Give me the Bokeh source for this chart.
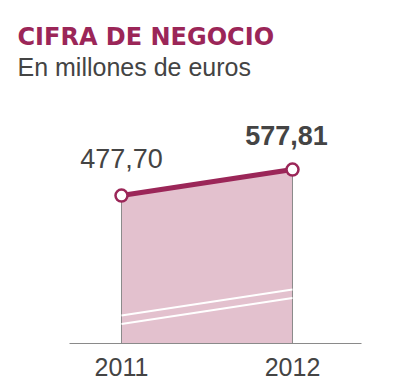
from bokeh.plotting import figure
from bokeh.models import Range1d, FixedTicker, Title, ColumnDataSource
from bokeh.embed import file_html
from bokeh.resources import INLINE
from bokeh.core.properties import value

# ---- data ----
years = [2011, 2012]
values = [477.70, 577.81]
value_labels = ["477,70", "577,81"]
label_styles = ["normal", "bold"]
tick_labels = {2011: "2011", 2012: "2012"}
title_text = "CIFRA DE NEGOCIO"
subtitle_text = "En millones de euros"

# ---- styling ----
MAROON = "#9b2658"
FILL = "#e3c1ce"
GREY = "#444444"
label_dx = [0, -6]
label_dy = [-37, -34]

base = -92.0          # bottom of the (broken) value axis
top = 909.0
brk1 = 462.0          # break-line offsets below the data line
brk2 = 495.0

W, H = 414, 391
p = figure(width=W, height=H, output_backend="svg", toolbar_location=None,
           x_range=Range1d(2010.696, 2012.4035), y_range=Range1d(base, top),
           y_axis_location=None, title_location=None,
           min_border_left=69, min_border_right=53,
           min_border_top=83, min_border_bottom=48)
p.outline_line_color = None
p.xgrid.visible = False
p.ygrid.visible = False
p.background_fill_color = "white"

src = ColumnDataSource(dict(
    x=years, y=values, base=[base] * len(years),
    b1=[v - brk1 for v in values], b2=[v - brk2 for v in values],
    lab=value_labels, style=label_styles, dx=label_dx, dy=label_dy,
))

p.varea(x="x", y1="base", y2="y", source=src, fill_color=FILL)
p.segment(x0="x", y0="base", x1="x", y1="y", source=src, line_color="#8a8a8a", line_width=1)
p.line(x="x", y="b1", source=src, line_color="white", line_width=2)
p.line(x="x", y="b2", source=src, line_color="white", line_width=2)
p.line(x="x", y="y", source=src, line_color=MAROON, line_width=5)
p.scatter(x="x", y="y", source=src, size=12, fill_color="white", line_color=MAROON, line_width=2.5)

p.text(x="x", y="y", text="lab", source=src, text_font=value("Liberation Sans"),
       text_font_size="27px", text_font_style="style", text_color=GREY,
       text_align="center", text_baseline="alphabetic",
       x_offset="dx", y_offset="dy")

ax = p.xaxis[0]
ax.ticker = FixedTicker(ticks=years)
ax.major_label_overrides = tick_labels
ax.major_label_text_font = "Liberation Sans"
ax.major_label_text_font_size = "25px"
ax.major_label_text_color = GREY
ax.major_tick_line_color = None
ax.minor_tick_line_color = None
ax.axis_line_color = "#8a8a8a"
ax.axis_line_width = 1
ax.major_label_standoff = 8

p.add_layout(Title(text=subtitle_text, align="left", offset=-52, standoff=6,
                   text_font="Liberation Sans", text_font_style="normal",
                   text_font_size="25px", text_color=GREY), "above")
p.add_layout(Title(text=title_text, align="left", offset=-52, standoff=-6,
                   text_font="DejaVu Sans", text_font_style="bold",
                   text_font_size="24px", text_color=MAROON), "above")

open("out.html", "w").write(file_html(p, INLINE))
